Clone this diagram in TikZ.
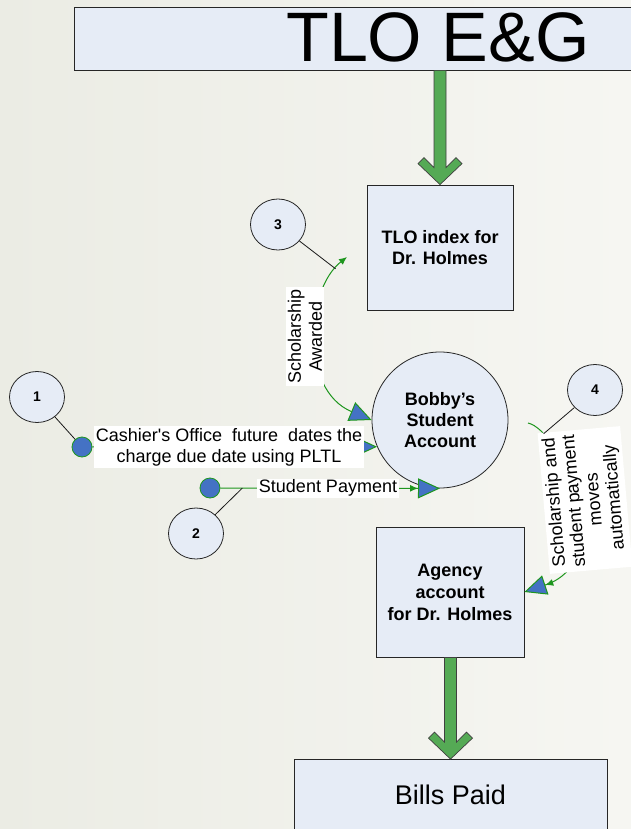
\documentclass[tikz,border=0pt]{standalone}
\usepackage{fontspec}
\setmainfont{Liberation Sans}
\usetikzlibrary{arrows.meta,shapes.geometric,calc}
\definecolor{boxfill}{RGB}{230,236,246}
\definecolor{tipblue}{RGB}{68,114,196}
\definecolor{flowgreen}{RGB}{30,150,30}
\definecolor{fatgreen}{RGB}{85,170,85}
\definecolor{bgL}{RGB}{235,236,228}
\definecolor{bgR}{RGB}{246,246,242}
\tikzset{
  boxnode/.style={rectangle, draw=black!85, line width=0.8pt, fill=boxfill, inner sep=0pt, align=center, font=\bfseries\fontsize{18}{21}\selectfont},
  numc/.style={ellipse, draw=black!85, line width=0.8pt, fill=boxfill, minimum width=55pt, minimum height=51pt, inner sep=0pt, font=\bfseries\fontsize{14}{16}\selectfont},
  bluedot/.style={circle, draw=flowgreen, fill=tipblue, minimum size=20pt, inner sep=0pt, line width=0.8pt},
  lbl/.style={fill=white, font=\fontsize{18}{21}\selectfont, align=center, inner xsep=2pt, inner ysep=2pt},
  flow/.style={draw=flowgreen, line width=1pt},
  leader/.style={draw=black!90, line width=0.8pt},
  fatarrow/.style={fill=fatgreen, draw=black!75, line width=0.7pt, line join=miter}
}
\newcommand\fatarrowdown[2]{%
  \filldraw[fatarrow] let \p1=(#1), \p2=(#2) in
    (\x2-6pt,\y1) -- (\x2-6pt,\y2+17pt) -- (\x2-16pt,\y2+27pt) -- (\x2-22pt,\y2+21pt)
    -- (\x2,\y2) -- (\x2+22pt,\y2+21pt) -- (\x2+16pt,\y2+27pt) -- (\x2+6pt,\y2+17pt)
    -- (\x2+6pt,\y1) -- cycle;}
\begin{document}
\begin{tikzpicture}[x=1pt, y=-1pt]
\useasboundingbox (0,0) rectangle (631,829);
\shade[left color=bgL, right color=bgR] (0,0) rectangle (631,829);
\clip (0,0) rectangle (631,829);

% boxes and circles
\node[boxnode, minimum width=728pt, minimum height=63pt, font=\fontsize{70}{80}\selectfont] (topbox) at (438,38.5) {\raisebox{3pt}{TLO E\&G}};
\node[boxnode, minimum width=146pt, minimum height=125pt] (idx) at (440,247.5) {TLO index for\\Dr. Holmes};
\node[boxnode, circle, minimum size=136pt] (bobby) at (440,420) {Bobby’s\\Student\\Account};
\node[boxnode, minimum width=148pt, minimum height=130pt, font=\bfseries\fontsize{18}{22}\selectfont] (agency) at (450,592) {Agency\\account\\for Dr. Holmes};
\node[boxnode, minimum width=313pt, minimum height=70pt, font=\fontsize{27}{30}\selectfont] (bills) at (450.5,794.5) {Bills Paid};

\node[numc] (c1) at (37,397) {1};
\node[numc] (c2) at (196,533.5) {2};
\node[numc] (c3) at (278,224.5) {3};
\node[numc] (c4) at (595,390) {4};

\node[bluedot] (d1) at (82,447) {};
\node[bluedot] (d2) at (210,488) {};

\coordinate (schtop) at (347,257);
\coordinate (s4a) at (528,423);

% fat arrows
\fatarrowdown{topbox.south -| idx.north}{idx.north}
\fatarrowdown{agency.south}{bills.north}

% flows
\draw[flow, -{Triangle[length=22pt, width=20pt, fill=tipblue]}] (d1) -- (bobby.203)
  node[lbl, pos=0.48] {Cashier\textquotesingle s Office\ \ future\ \ dates the\\charge due date using PLTL};
\draw[flow, -{Latex[length=8pt, width=7pt] Triangle[length=22pt, width=20pt, fill=tipblue]}] (d2) -- (bobby.south)
  coordinate[pos=0.1] (s2)
  node[lbl, pos=0.49, inner ysep=1pt] {Student Payment};
\draw[flow, {Latex[length=8pt, width=7pt]}-{Triangle[length=22pt, width=20pt, fill=tipblue]}] (schtop) .. controls (305,290) and (300,390) .. (bobby.west)
  coordinate[pos=0.1] (s3);
\draw[flow, -{Latex[length=8pt, width=7pt] Triangle[length=22pt, width=20pt, fill=tipblue]}] (s4a) .. controls (560,430) and (620,560) .. (agency.east)
  coordinate[pos=0.15] (s4);

% labels
\node[lbl, rotate=90] (schlbl) at (305,336.5) {Scholarship\\Awarded};
\node[lbl, rotate=95, font=\fontsize{18}{20}\selectfont, inner xsep=4pt, inner ysep=3pt] (autolbl) at (585,500) {Scholarship and\\student payment\\moves\\automatically};

% leaders
\draw[leader] (c1) -- (d1);
\draw[leader] (c2) -- (s2);
\draw[leader] (c3) -- (s3);
\draw[leader] (c4) -- (s4);
\end{tikzpicture}
\end{document}
